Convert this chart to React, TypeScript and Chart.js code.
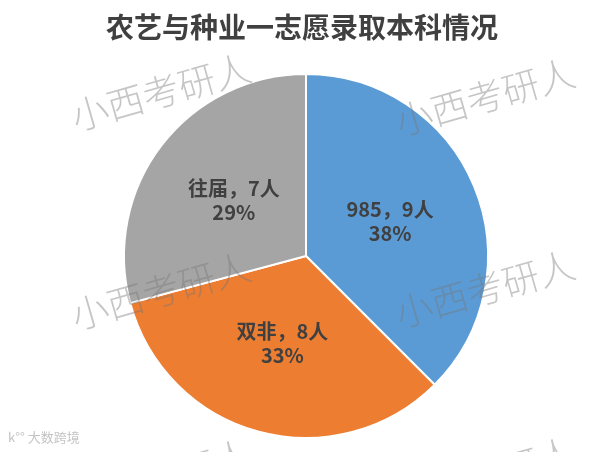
import React, { useEffect, useRef } from "react";
import { Chart, registerables } from "chart.js";

Chart.register(...registerables);

const TITLE = "农艺与种业一志愿录取本科情况";
const categories = ["985", "双非", "往届"];
const counts = [9, 8, 7];
const percents = ["38%", "33%", "29%"];
const colors = ["#5B9BD5", "#ED7D31", "#A5A5A5"];
const WATERMARK = "小西考研人";

const overlayPlugin = {
  id: "overlay",
  afterDatasetsDraw(chart: any) {
    const ctx = chart.ctx;
    const meta = chart.getDatasetMeta(0);
    ctx.save();
    // slice labels
    ctx.fillStyle = "#404040";
    ctx.textAlign = "center";
    ctx.textBaseline = "middle";
    ctx.font = "bold 20px 'Noto Sans CJK SC', 'Noto Sans', sans-serif";
    meta.data.forEach((arc: any, i: number) => {
      const p = arc.tooltipPosition();
      ctx.fillText(categories[i] + "，" + counts[i] + "人", p.x, p.y - 12);
      ctx.fillText(percents[i], p.x, p.y + 12);
    });
    // watermarks
    const marks = [
      [161, 92],
      [485, 97],
      [161, 291],
      [485, 289],
      [161, 478],
      [485, 476],
    ];
    ctx.font = "300 37px 'Noto Sans CJK SC', sans-serif";
    ctx.fillStyle = "rgba(120,120,120,0.42)";
    marks.forEach(([x, y]) => {
      ctx.save();
      ctx.translate(x, y);
      ctx.rotate((-16 * Math.PI) / 180);
      ctx.fillText(WATERMARK, 0, 0);
      ctx.restore();
    });
    // title
    ctx.fillStyle = "#404040";
    ctx.font = "bold 28px 'Noto Sans CJK SC', sans-serif";
    ctx.fillText(TITLE, 302, 27);
    // logo text
    ctx.font = "13px 'Noto Sans CJK SC', sans-serif";
    ctx.fillStyle = "#c4c4c4";
    ctx.textAlign = "left";
    ctx.fillText("k°° 大数跨境", 8, 437);
    ctx.restore();
  },
};

export default function App() {
  const ref = useRef<HTMLCanvasElement>(null);
  useEffect(() => {
    document.body.style.margin = "0";
    const chart = new Chart(ref.current as HTMLCanvasElement, {
      type: "pie",
      data: {
        labels: categories,
        datasets: [
          {
            data: counts,
            backgroundColor: colors,
            borderColor: "#ffffff",
            borderWidth: 2,
          },
        ],
      },
      options: {
        animation: false,
        responsive: false,
        layout: { padding: { top: 73, bottom: 13, left: 123, right: 101 } },
        plugins: {
          legend: { display: false },
          tooltip: { enabled: false },
          title: { display: false },
        },
      },
      plugins: [overlayPlugin],
    });
    return () => chart.destroy();
  }, []);
  return (
    <div style={{ width: 590, height: 452, background: "#fff" }}>
      <canvas ref={ref} width={590} height={452} />
    </div>
  );
}
